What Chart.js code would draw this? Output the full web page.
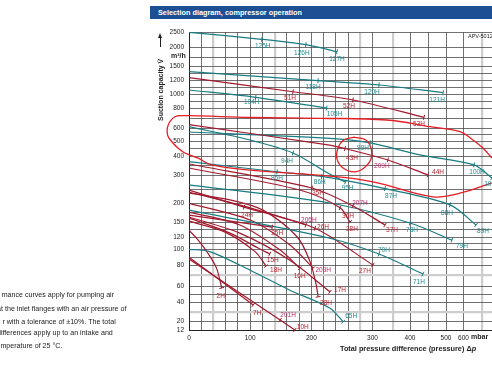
<!DOCTYPE html>
<html>
<head>
<meta charset="utf-8">
<script src="https://cdn.jsdelivr.net/npm/chart.js@4.4.1/dist/chart.umd.min.js"></script>
<style>
html, body { margin: 0; padding: 0; background: #fff; }
#wrap { position: relative; width: 492px; height: 369px; overflow: hidden; font-family: "Liberation Sans", Arial, sans-serif; }
canvas { position: absolute; left: 0; top: 0; }
.t { position: absolute; white-space: nowrap; color: #222; }
.b { font-weight: bold; }
</style>
</head>
<body>
<div id="wrap">
  <canvas id="chart" width="492" height="369"></canvas>

  <div class="t b" style="left:150px;top:6px;width:334px;height:13px;line-height:13px;background:#1c4f94;color:#fff;font-size:7.3px;padding-left:8px;">Selection diagram, compressor operation</div>
  <div class="t" style="left:468px;top:33px;font-size:5.5px;">APV-5012</div>

  <div class="t b" style="left:155.5px;top:121px;font-size:7px;line-height:9px;transform:rotate(-90deg);transform-origin:left top;">Suction capacity V̇</div>
  <div style="position:absolute;left:159.5px;top:37px;width:1px;height:10px;background:#222;"></div>
  <div style="position:absolute;left:157.5px;top:33px;width:0;height:0;border-left:2.5px solid transparent;border-right:2.5px solid transparent;border-bottom:5px solid #222;"></div>
  <div class="t b" style="left:171px;top:52px;font-size:7px;">m³/h</div>

  <div class="t b" style="left:340px;top:344px;font-size:7.3px;">Total pressure difference (pressure) Δ<i>p</i></div>
  <div class="t b" style="left:471px;top:333px;font-size:7px;">mbar</div>

  <div class="t" style="left:1.7px;top:291px;font-size:7.1px;">mance curves apply for pumping air</div>
  <div class="t" style="left:-2.9px;top:305px;font-size:7.1px;">at the inlet flanges with an air pressure of</div>
  <div class="t" style="left:2.4px;top:317.5px;font-size:7.1px;">r with a tolerance of ±10%. The total</div>
  <div class="t" style="left:-3px;top:329px;font-size:7.1px;">differences apply up to an intake and</div>
  <div class="t" style="left:-5.5px;top:342px;font-size:7.1px;">temperature of 25 °C.</div>
</div>

<script>
// axis ticks (mbar / m3/h)
const xTickLabels = [0, 100, 200, 300, 400, 500, 600];
const yTickLabels = [12, 20, 40, 60, 80, 100, 120, 150, 200, 300, 400, 500, 600, 800, 1000, 1200, 1500, 2000, 2500];
const xGrid = [0, 20, 40, 60, 80, 100, 120, 140, 160, 180, 200, 220, 240, 260, 280, 300, 350, 400, 450, 500, 600, 700];
const yGrid = [12, 20, 30, 40, 50, 60, 70, 80, 90, 100, 110, 120, 135, 150, 175, 200, 250, 300, 350, 400, 450, 500, 550,
               600, 700, 800, 900, 1000, 1100, 1200, 1350, 1500, 1750, 2000, 2500];
const xLight = [40, 140, 280, 350, 700];
const yLight = [30, 70];

// curves: [pressure difference mbar, suction capacity m3/h]
const line127 = [[0, 2500], [119, 2273], [191, 2097], [242, 1895]];
const line121 = [[0, 1387], [211, 1190], [316, 1130], [492, 1022]];
const line53 = [[0, 1252], [170, 1036], [268, 919], [439, 710]];
const line105 = [[0, 1060], [109, 957], [225, 804]];
const line44 = [[0, 636], [230, 473], [255, 450], [338, 379], [450, 300]];
const line95 = [[0, 616], [100, 508], [170, 420], [230, 305], [256, 275]];
const line101 = [[0, 571], [230, 521], [296, 487], [428, 407], [657, 353], [754, 289]];
const line89 = [[0, 370], [144, 317], [217, 295], [331, 252], [523, 196], [668, 144.5]];
const line37 = [[0, 358], [201, 254], [268, 193], [331, 144.5]];
const line38 = [[0, 337], [181, 247], [247, 188], [263, 151]];
const line79 = [[0, 265], [230, 201], [400, 148.6], [534, 115]];
const line71 = [[0, 182], [230, 118], [316, 94], [436, 71.4]];
const line65 = [[0, 100], [34, 97], [100, 75], [165, 55], [230, 34.4], [252, 20]];
const line2 = [[0, 134], [15, 115], [31, 95], [45, 77], [53.5, 57.6]];
const line7 = [[0, 90], [105, 37.6]];
const line10 = [[0, 87.6], [149, 21.8], [173, 12]];
const line27 = [[0, 247], [90, 190], [206, 138], [301, 80]];
const line206 = [[0, 240], [100, 188], [191, 144.5]];
const line25 = [[0, 169], [136, 140]];
const line15 = [[0, 161], [67, 128], [113, 102], [132, 94]];
const line18 = [[0, 153], [59, 130], [108, 97], [126, 79]];
const line16 = [[0, 177], [83, 144.5], [149, 99], [181, 77]];
const line28 = [[0, 236], [67, 212], [121, 182], [177, 120], [198, 84], [208, 61], [211, 47]];
const line203 = [[0, 200], [100, 156], [165, 107], [203, 77]];
const line17 = [[0, 164], [83, 128], [165, 86], [230.5, 53]];

// hand drawn red markings
const markLoop = [[754, 389], [705, 453], [651, 508], [580, 573], [456, 616], [335, 683], [214, 700], [100, 708],
                  [-6.5, 726], [-23, 716], [-34, 633], [-35, 547], [-28, 495], [-18, 453], [-6.5, 420], [15, 389],
                  [37, 353], [100, 326], [230, 296], [301, 276], [464, 223], [580, 236], [754, 272]];
const markCircle = [[270, 531], [289, 508], [297.5, 453], [297.5, 384], [286, 337], [270, 316], [252, 337],
                    [242, 384], [243.6, 453], [253, 508], [270, 531]];

// pixel positions of the printed axis values in the drawing
const xKnotPx = [[0, 189], [300, 372.5], [350, 392.7], [400, 410], [450, 428], [500, 446], [600, 463.5], [700, 482], [754, 492]];
const yKnotPx = [[12, 330], [20, 321.7], [40, 302.7], [60, 286], [80, 265], [100, 249.3], [120, 237], [150, 222.3],
                 [200, 203.3], [300, 175], [400, 156], [500, 141], [600, 128.3], [800, 108.3], [1000, 94.3],
                 [1200, 80], [1500, 66.7], [2000, 47.7], [2500, 32.3]];

const TEAL = '#187c82';
const RED = '#a2192d';
const MARK = '#e41e24';
const FONT = '"Liberation Sans", Arial, sans-serif';

// scale that follows the printed (non uniform) axis divisions
class KnotScale extends Chart.LinearScale {
    static id = 'knot';
    static defaults = {};

    buildTicks() {
        return this.options.tickValues.map(v => ({ value: v }));
    }

    _frac(value) {
        const k = this.options.knots;
        let i = 0;
        while (i < k.length - 2 && value > k[i + 1][0]) i++;
        const a = k[i], b = k[i + 1];
        return a[1] + (value - a[0]) * (b[1] - a[1]) / (b[0] - a[0]);
    }

    getPixelForValue(value) {
        const f = this._frac(value);
        return this.isHorizontal() ? this.left + f * this.width : this.bottom - f * this.height;
    }

    getValueForPixel(pixel) {
        const f = this.isHorizontal() ? (pixel - this.left) / this.width : (this.bottom - pixel) / this.height;
        const k = this.options.knots;
        let i = 0;
        while (i < k.length - 2 && f > k[i + 1][1]) i++;
        const a = k[i], b = k[i + 1];
        return a[0] + (f - a[1]) * (b[0] - a[0]) / (b[1] - a[1]);
    }
}
Chart.register(KnotScale);

const xKnots = xKnotPx.map(([v, p]) => [v, (p - 189) / (492 - 189)]);
const yKnots = yKnotPx.map(([v, p]) => [v, (330 - p) / (330 - 32)]);

// label marks: [point index, text, dx, dy]
const curveDefs = [
    { pts: line127, col: TEAL, marks: [[1, '125H', 1, 7], [2, '126H', -4, 8], [3, '127H', 0, 8]] },
    { pts: line121, col: TEAL, marks: [[1, '118H', -5, 6], [2, '120H', -7, 7], [3, '121H', -6, 7]] },
    { pts: line53, col: RED, marks: [[1, '51H', -3, 6], [2, '52H', -4, 6], [3, '53H', -5, 7]] },
    { pts: line105, col: TEAL, marks: [[1, '104H', -4, 5], [2, '105H', 8, 6]] },
    { pts: line44, col: RED, marks: [[2, '43H', 7, 10], [3, '209H', -6, 6], [4, '44H', 10, -3]] },
    { pts: line95, col: TEAL, marks: [[2, '94H', -6, 8], [4, '95H', 2, 6]] },
    { pts: line101, col: TEAL, marks: [[2, '99H', -7, 5], [4, '100H', 3, 7], [5, '101H', 0, 6]] },
    { pts: line89, col: TEAL, marks: [[1, '85H', 0, 6], [2, '86H', -2, 6], [3, '87H', 6, 8], [4, '88H', -3, 8], [5, '89H', 7, 6]] },
    { pts: line37, col: RED, marks: [[1, '35H', 6, 5], [2, '207H', 7, -3], [3, '37H', 7, 5]] },
    { pts: line38, col: RED, marks: [[2, '36H', 8, 8], [3, '38H', 2, 7]] },
    { pts: line79, col: TEAL, marks: [[2, '78H', 2, 7], [3, '79H', 10, 6]] },
    { pts: line71, col: TEAL, marks: [[2, '70H', 5, -4], [3, '71H', -4, 8]] },
    { pts: line65, col: TEAL, marks: [[5, '65H', 8, -5]] },
    { pts: line2, col: RED, marks: [[4, '2H', -1, 8]] },
    { pts: line7, col: RED, marks: [[1, '7H', 4, 8]] },
    { pts: line10, col: RED, marks: [[1, '201H', 8, -5], [2, '10H', 8, -3]] },
    { pts: line27, col: RED, marks: [[1, '24H', 3, 8], [2, '26H', 8, -1], [3, '27H', -8, 6]] },
    { pts: line206, col: RED, marks: [[2, '206H', 3, -5]] },
    { pts: line25, col: RED, marks: [[1, '25H', 5, 6]] },
    { pts: line15, col: RED, marks: [[3, '15H', 3, 6]] },
    { pts: line18, col: RED, marks: [[3, '18H', 10, 4]] },
    { pts: line16, col: RED, marks: [[3, '16H', 0, 8]] },
    { pts: line28, col: RED, marks: [[6, '28H', 8, 6]] },
    { pts: line203, col: RED, marks: [[3, '203H', 10, 2]] },
    { pts: line17, col: RED, marks: [[3, '17H', 10, -2]] }
];

const toXY = pts => pts.map(([x, y]) => ({ x, y }));

const datasets = [
    { data: toXY(markLoop), borderColor: MARK, borderWidth: 1.3, tension: 0.4, clip: false },
    { data: toXY(markCircle), borderColor: MARK, borderWidth: 1.3, tension: 0.4, clip: false }
];
curveDefs.forEach(d => {
    datasets.push({
        data: toXY(d.pts),
        borderColor: d.col,
        borderWidth: 1.2,
        tension: 0.3,
        marks: d.marks
    });
});

// tick marks and type names along the curves
const curveLabels = {
    id: 'curveLabels',
    afterDatasetsDraw(chart) {
        const ctx = chart.ctx;
        chart.data.datasets.forEach((ds, di) => {
            if (!ds.marks) return;
            const pts = chart.getDatasetMeta(di).data;
            ds.marks.forEach(([i, text, dx, dy]) => {
                const p = pts[i];
                const q = i > 0 ? pts[i - 1] : pts[i + 1];
                const ang = Math.atan2(p.y - q.y, p.x - q.x);
                const nx = -Math.sin(ang), ny = Math.cos(ang);
                ctx.save();
                ctx.strokeStyle = ds.borderColor;
                ctx.lineWidth = 1;
                ctx.beginPath();
                ctx.moveTo(p.x - nx * 2.5, p.y - ny * 2.5);
                ctx.lineTo(p.x + nx * 2.5, p.y + ny * 2.5);
                ctx.stroke();
                let col = ds.borderColor === TEAL ? '#1d8a90' : '#b3242f';
                if (/^2\d\dH$/.test(text)) col = '#b8306a';
                ctx.fillStyle = col;
                ctx.font = '6.5px ' + FONT;
                ctx.textAlign = 'center';
                ctx.textBaseline = 'middle';
                ctx.fillText(text, p.x + dx, p.y + dy);
                ctx.restore();
            });
        });
    }
};

const gridColor = (light) => ctx => light.includes(ctx.tick.value) ? '#cdcdcd' : '#4d4d4d';
const gridWidth = (light) => ctx => light.includes(ctx.tick.value) ? 2.2 : 0.8;

new Chart(document.getElementById('chart'), {
    type: 'scatter',
    data: { datasets },
    options: {
        responsive: false,
        animation: false,
        showLine: true,
        layout: { padding: { left: 150, top: 32, right: 0, bottom: 25 } },
        elements: { point: { radius: 0, hoverRadius: 0 } },
        plugins: { legend: { display: false }, tooltip: { enabled: false } },
        scales: {
            x: {
                type: 'knot',
                min: 0,
                max: 754,
                knots: xKnots,
                tickValues: xGrid,
                grid: { color: gridColor(xLight), lineWidth: gridWidth(xLight), drawTicks: false },
                border: { color: '#222', width: 1 },
                ticks: {
                    autoSkip: false,
                    maxRotation: 0,
                    minRotation: 0,
                    padding: 4,
                    color: '#222',
                    font: { family: FONT, size: 6.5 },
                    callback: v => xTickLabels.includes(v) ? String(v) : ''
                },
                afterFit: s => { s.height = 14; }
            },
            y: {
                type: 'knot',
                min: 12,
                max: 2500,
                knots: yKnots,
                tickValues: yGrid,
                grid: { color: gridColor(yLight), lineWidth: gridWidth(yLight), drawTicks: false },
                border: { color: '#222', width: 1 },
                ticks: {
                    autoSkip: false,
                    padding: 5,
                    color: '#222',
                    font: { family: FONT, size: 6.5 },
                    callback: v => yTickLabels.includes(v) ? String(v) : ''
                },
                afterFit: s => { s.width = 39; }
            }
        }
    },
    plugins: [curveLabels]
});
</script>
</body>
</html>
